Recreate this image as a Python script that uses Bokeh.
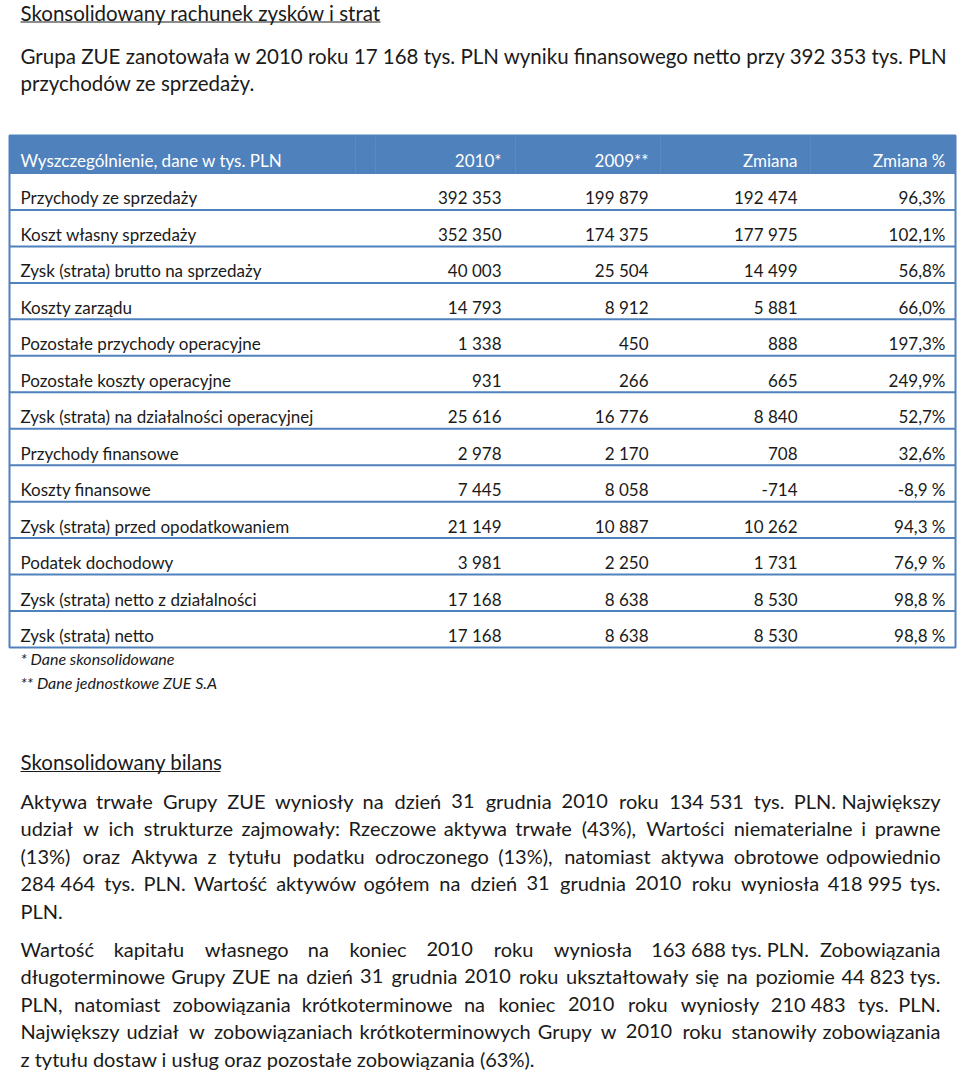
from bokeh.plotting import figure
from bokeh.models import Range1d, ColumnDataSource
from bokeh.core.properties import value
from bokeh.embed import file_html
from bokeh.resources import INLINE

NB = "\u00a0"  # non-breaking space inside numbers

# ---------------- data ----------------
title1 = "Skonsolidowany rachunek zysków i strat"
intro_lines = [
    "Grupa ZUE zanotowała w 2010 roku 17 168 tys. PLN wyniku finansowego netto przy 392 353 tys. PLN",
    "przychodów ze sprzedaży.",
]
header = ["Wyszczególnienie, dane w tys. PLN", "2010*", "2009**", "Zmiana", "Zmiana %"]
labels = [
    "Przychody ze sprzedaży",
    "Koszt własny sprzedaży",
    "Zysk (strata) brutto na sprzedaży",
    "Koszty zarządu",
    "Pozostałe przychody operacyjne",
    "Pozostałe koszty operacyjne",
    "Zysk (strata) na działalności operacyjnej",
    "Przychody finansowe",
    "Koszty finansowe",
    "Zysk (strata) przed opodatkowaniem",
    "Podatek dochodowy",
    "Zysk (strata) netto z działalności",
    "Zysk (strata) netto",
]
v2010 = [392353, 352350, 40003, 14793, 1338, 931, 25616, 2978, 7445, 21149, 3981, 17168, 17168]
v2009 = [199879, 174375, 25504, 8912, 450, 266, 16776, 2170, 8058, 10887, 2250, 8638, 8638]
zmiana = [192474, 177975, 14499, 5881, 888, 665, 8840, 708, -714, 10262, 1731, 8530, 8530]
zmiana_pct = [96.3, 102.1, 56.8, 66.0, 197.3, 249.9, 52.7, 32.6, -8.9, 94.3, 76.9, 98.8, 98.8]
pct_spaced = [False] * 8 + [True] * 5
footnotes = ["* Dane skonsolidowane", "** Dane jednostkowe ZUE S.A"]
title2 = "Skonsolidowany bilans"
para1 = [
    f"Aktywa trwałe Grupy ZUE wyniosły na dzień 31 grudnia 2010 roku 134{NB}531 tys. PLN. Największy",
    "udział w ich strukturze zajmowały: Rzeczowe aktywa trwałe (43%), Wartości niematerialne i prawne",
    "(13%) oraz Aktywa z tytułu podatku odroczonego (13%), natomiast aktywa obrotowe odpowiednio",
    f"284{NB}464 tys. PLN. Wartość aktywów ogółem na dzień 31 grudnia 2010 roku wyniosła 418{NB}995 tys.",
    "PLN.",
]
para2 = [
    f"Wartość kapitału własnego na koniec 2010 roku wyniosła 163{NB}688{NB}tys.{NB}PLN. Zobowiązania",
    f"długoterminowe Grupy ZUE na dzień 31 grudnia 2010 roku ukształtowały się na poziomie 44{NB}823 tys.",
    f"PLN, natomiast zobowiązania krótkoterminowe na koniec 2010 roku wyniosły 210{NB}483 tys. PLN.",
    "Największy udział w zobowiązaniach krótkoterminowych Grupy w 2010 roku stanowiły zobowiązania",
    "z tytułu dostaw i usług oraz pozostałe zobowiązania (63%).",
]


def fmt(v):
    s = f"{abs(v):,}".replace(",", " ")
    return ("-" if v < 0 else "") + s


def fmt_pct(v, spaced):
    s = f"{v:.1f}".replace(".", ",")
    return s + (" %" if spaced else "%")


# ---------------- layout ----------------
W, H = 960, 1072
FONT = "Lato"
BLUE = "#4F81BD"
TXT = "#1a1a1a"

p = figure(width=W, height=H, x_range=Range1d(0, W), y_range=Range1d(H, 0),
           output_backend="svg", toolbar_location=None, min_border=0,
           x_axis_type=None, y_axis_type=None)
p.grid.visible = False
p.outline_line_color = None
p.background_fill_color = "white"
p.border_fill_color = "white"


def txt(xs, ys, texts, size, color=TXT, align="left", style="normal"):
    src = ColumnDataSource(dict(x=list(xs), y=list(ys), t=list(texts)))
    p.text("x", "y", text="t", source=src, text_font=value(FONT),
           text_font_size=value(f"{size}px"), text_color=color, text_align=align,
           text_baseline="middle", text_font_style=style)


# approximate Lato advance widths (em) for justified paragraphs
_W = {" ": 0.193, NB: 0.193, ".": 0.2, ",": 0.2, ":": 0.22, "(": 0.3, ")": 0.3, "%": 0.75, "-": 0.34}
_W.update({c: w for c, w in zip("abcdefghijklmnopqrstuvwxyz",
          [0.49, 0.55, 0.45, 0.55, 0.51, 0.32, 0.5, 0.55, 0.24, 0.24, 0.49, 0.24, 0.82,
           0.55, 0.55, 0.55, 0.55, 0.36, 0.41, 0.35, 0.55, 0.49, 0.74, 0.48, 0.49, 0.44])})
_W.update({c: w for c, w in zip("ABCDEFGHIJKLMNOPQRSTUVWXYZ",
          [0.66, 0.62, 0.65, 0.72, 0.54, 0.52, 0.7, 0.74, 0.28, 0.38, 0.63, 0.47, 0.88,
           0.74, 0.78, 0.58, 0.78, 0.6, 0.5, 0.56, 0.71, 0.66, 1.0, 0.63, 0.6, 0.59])})
_BASE = {"ą": "a", "ć": "c", "ę": "e", "ł": "t", "ń": "n", "ó": "o", "ś": "s", "ź": "z", "ż": "z"}


def word_w(w, size):
    tot = 0.0
    for ch in w:
        ch = _BASE.get(ch, ch)
        tot += _W.get(ch, 0.58)
    return tot * size


def paragraph(lines, y0, left, right, size, lh):
    xs, ys, ts = [], [], []
    rx, ry, rt = [], [], []
    for i, line in enumerate(lines):
        y = y0 + lh * i
        words = line.split(" ")
        if i == len(lines) - 1 or len(words) < 2:
            xs.append(left); ys.append(y); ts.append(line)
            continue
        widths = [word_w(w, size) for w in words]
        gap = (right - left - sum(widths)) / (len(words) - 1)
        x = left
        for j, (w, ww) in enumerate(zip(words, widths)):
            if j == len(words) - 1:
                rx.append(right); ry.append(y); rt.append(w)
            else:
                xs.append(x); ys.append(y); ts.append(w)
            x += ww + gap
    txt(xs, ys, ts, size)
    txt(rx, ry, rt, size, align="right")


LEFT = 20
BIG = 20.5

# title 1
txt([LEFT], [12], [title1], BIG)
p.segment(x0=[LEFT], y0=[21.5], x1=[380], y1=[21.5], line_color=TXT, line_width=1.2)

# intro
txt([LEFT] * len(intro_lines), [55 + 27.5 * i for i in range(len(intro_lines))], intro_lines, BIG)

# table geometry
t_left, t_right = 9, 955
t_top, h_bot = 135, 173
n = len(labels)
row_h = (647 - h_bot) / n
col_right = [501, 648, 797, 945]
TS = 17

p.quad(left=[t_left], right=[t_right], top=[t_top], bottom=[h_bot],
       fill_color=BLUE, line_color=BLUE)
hcols = [355, 375, 515, 660, 810]
p.segment(x0=hcols, y0=[t_top] * 5, x1=hcols, y1=[h_bot] * 5,
          line_color="#5a8ac4", line_width=1)
seps = [h_bot + row_h * (i + 1) for i in range(n - 1)]
p.segment(x0=[t_left] * len(seps), y0=seps, x1=[t_right] * len(seps), y1=seps,
          line_color=BLUE, line_width=2)
p.quad(left=[t_left], right=[t_right], top=[t_top], bottom=[h_bot + row_h * n],
       fill_color=None, line_color=BLUE, line_width=2)

# header text
hy = h_bot - 13
txt([LEFT], [hy], [header[0]], TS, color="white")
txt(col_right, [hy] * 4, header[1:], TS, color="white", align="right")

# rows
ys = [h_bot + row_h * (i + 1) - 12 for i in range(n)]
txt([LEFT] * n, ys, labels, TS)
txt([col_right[0]] * n, ys, [fmt(v) for v in v2010], TS, align="right")
txt([col_right[1]] * n, ys, [fmt(v) for v in v2009], TS, align="right")
txt([col_right[2]] * n, ys, [fmt(v) for v in zmiana], TS, align="right")
txt([col_right[3]] * n, ys, [fmt_pct(v, s) for v, s in zip(zmiana_pct, pct_spaced)], TS, align="right")

# footnotes
txt([LEFT] * 2, [658, 682], footnotes, 16, style="italic")

# title 2
txt([LEFT], [761], [title2], BIG)
p.segment(x0=[LEFT], y0=[771], x1=[220], y1=[771], line_color=TXT, line_width=1.2)

# paragraphs (justified)
paragraph(para1, 800, LEFT, 940, 20, 27.5)
paragraph(para2, 948, LEFT, 940, 20, 27.5)

open("out.html", "w").write(file_html(p, INLINE))
